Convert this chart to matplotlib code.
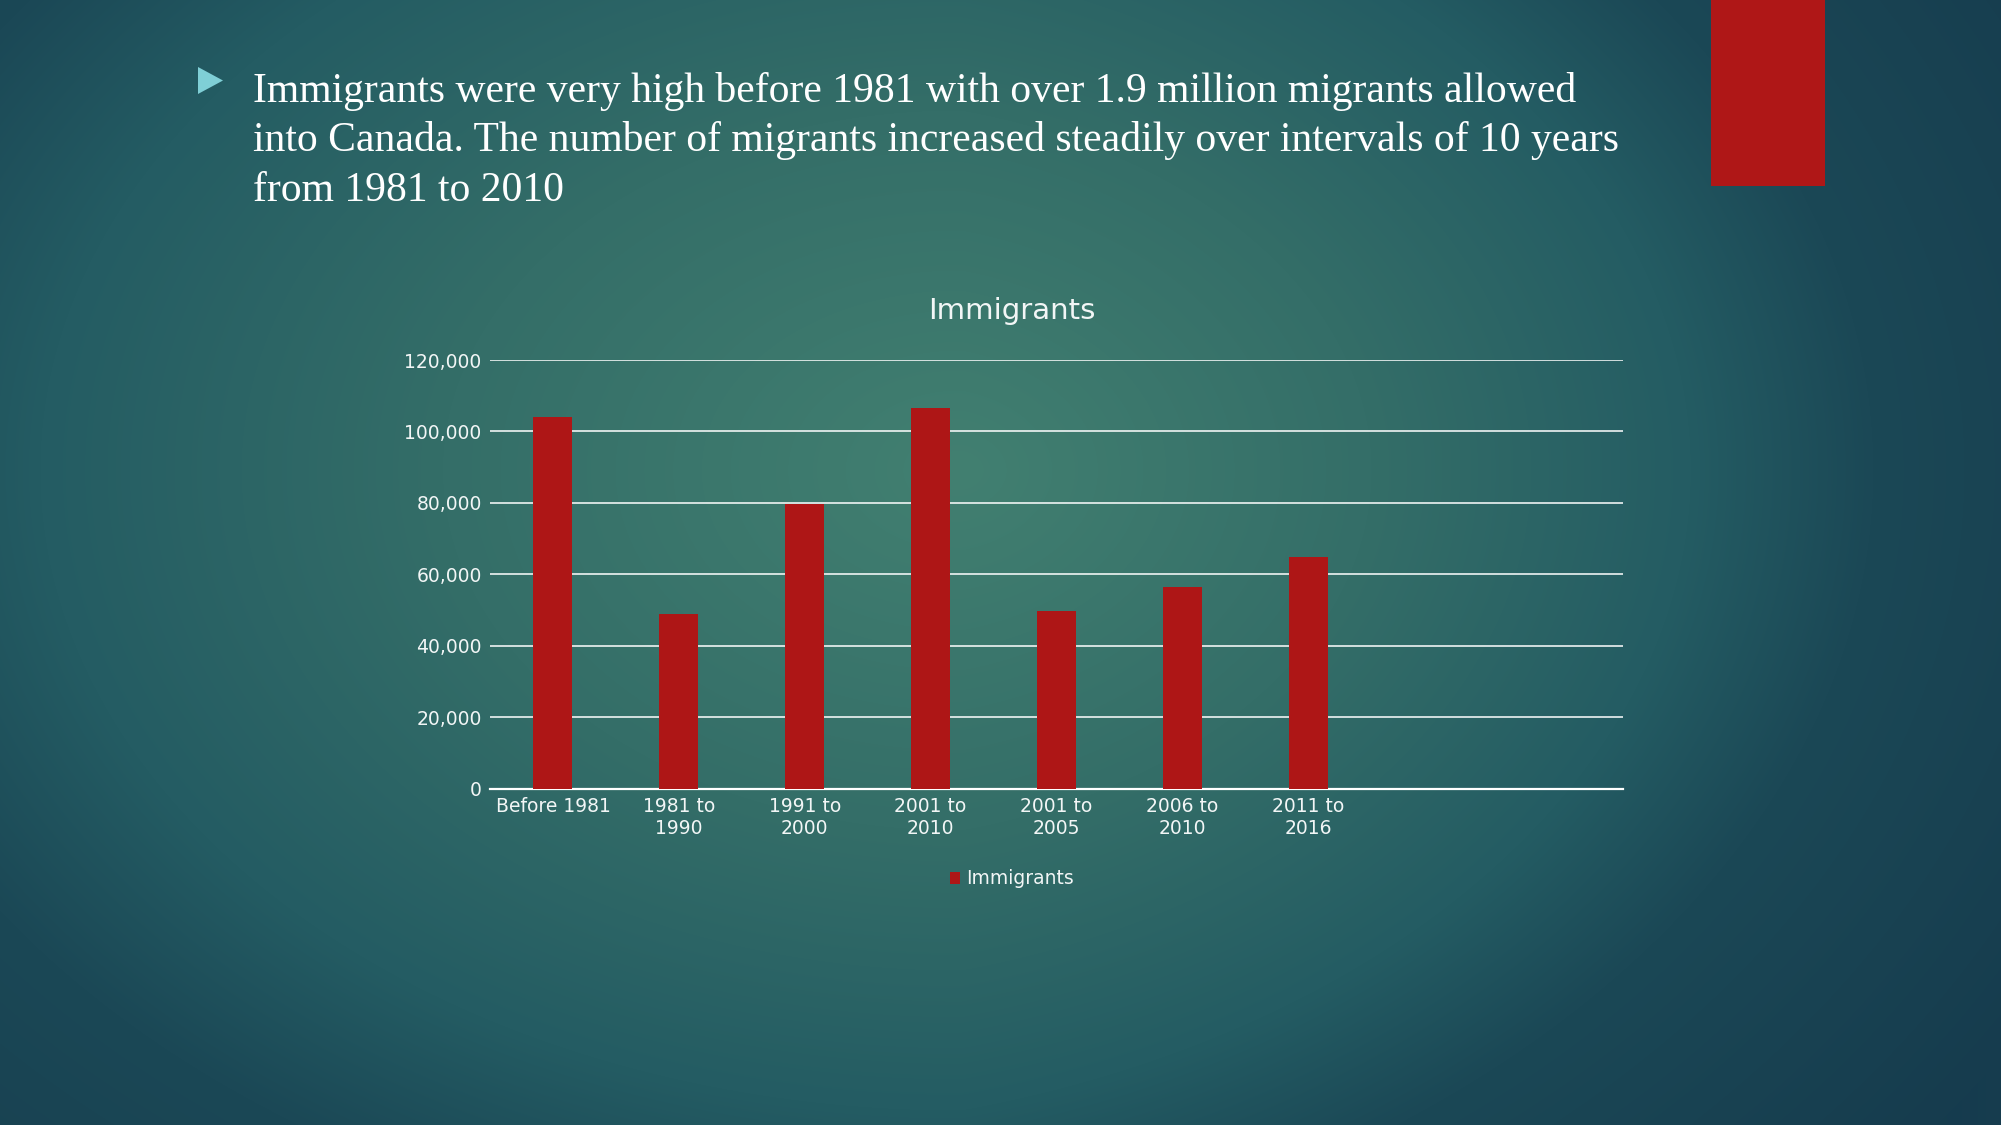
import matplotlib

matplotlib.use("Agg")
import matplotlib.pyplot as plt
import numpy as np
from matplotlib.patches import Polygon, Rectangle
from matplotlib.ticker import FuncFormatter

HEADLINE = [
    "Immigrants were very high before 1981 with over 1.9 million migrants allowed",
    "into Canada. The number of migrants increased steadily over intervals of 10 years",
    "from 1981 to 2010",
]
CHART_TITLE = "Immigrants"
SERIES_NAME = "Immigrants"
categories = [
    "Before 1981",
    "1981 to\n1990",
    "1991 to\n2000",
    "2001 to\n2010",
    "2001 to\n2005",
    "2006 to\n2010",
    "2011 to\n2016",
    "",
    "",
]
immigrants = [104000, 48900, 79800, 106500, 49800, 56500, 64900]
y_ticks = [0, 20000, 40000, 60000, 80000, 100000, 120000]

W, H = 2001, 1125
BAR_RED = "#AE1616"
TEXT = "#F2F6F6"


def background(w: int, h: int) -> np.ndarray:
    # radial teal glow, a bit brighter on the left
    yy, xx = np.mgrid[0:h, 0:w]
    d = np.sqrt(((xx - 960) / 1150.0) ** 2 + ((yy - 470) / 800.0) ** 2)
    d += np.clip((xx - 960) / 1100.0, 0, None) * 0.25
    stops = np.array([0.0, 0.45, 0.8, 1.0, 1.4])
    cols = np.array(
        [
            [66, 128, 113],
            [52, 110, 104],
            [36, 92, 99],
            [27, 72, 86],
            [22, 60, 78],
        ]
    ) / 255.0
    img = np.zeros((h, w, 3))
    for c in range(3):
        img[..., c] = np.interp(d, stops, cols[:, c])
    return img


fig = plt.figure(figsize=(W / 100, H / 100), dpi=100)

bg = fig.add_axes([0, 0, 1, 1], zorder=-10)
bg.imshow(background(W, H), aspect="auto", extent=[0, 1, 0, 1], origin="upper")
bg.set_axis_off()

# red tab top-right and bullet
fig.patches.append(
    Rectangle((1711 / W, 1 - 186 / H), 114 / W, 186 / H, transform=fig.transFigure,
              facecolor="#AF1717", edgecolor="none", zorder=1)
)
fig.patches.append(
    Polygon([(198 / W, 1 - 67 / H), (198 / W, 1 - 94 / H), (223 / W, 1 - 80.5 / H)],
            closed=True, transform=fig.transFigure, facecolor="#7FCFD6",
            edgecolor="none", zorder=1)
)

for i, line in enumerate(HEADLINE):
    fig.text(253 / W, 1 - (102 + 49.5 * i) / H, line, family="Liberation Serif",
             fontsize=30, color="white", va="baseline", ha="left")

ax = fig.add_axes([490 / W, 1 - 788.7 / H, 1133 / W, (788.7 - 360) / H])
ax.set_facecolor("none")
x = np.arange(len(immigrants))
ax.bar(x, immigrants, width=0.31, color=BAR_RED, label=SERIES_NAME, zorder=3)

ax.set_xlim(-0.5, len(categories) - 0.5)
ax.set_ylim(0, 120000)
ax.set_yticks(y_ticks)
ax.yaxis.set_major_formatter(FuncFormatter(lambda v, _: f"{int(v):,}"))
ax.set_xticks(np.arange(len(categories)))
ax.set_xticklabels(categories)
ax.tick_params(axis="both", length=0, colors=TEXT, labelsize=13.5)
ax.tick_params(axis="y", pad=6)
ax.tick_params(axis="x", pad=6)
ax.grid(axis="y", color="white", linewidth=1.1, zorder=1)
for side in ["top", "right", "left"]:
    ax.spines[side].set_visible(False)
ax.spines["bottom"].set_color("white")
ax.spines["bottom"].set_linewidth(1.6)

fig.text(1012 / W, 1 - 311 / H, CHART_TITLE, fontsize=21, color=TEXT,
         ha="center", va="center")

fig.legend(loc="center", bbox_to_anchor=(1012 / W, 1 - 879 / H), frameon=False,
           fontsize=13.5, labelcolor=TEXT, handlelength=0.55, handleheight=0.55,
           handletextpad=0.35)

fig.savefig("out.png", dpi=100)
